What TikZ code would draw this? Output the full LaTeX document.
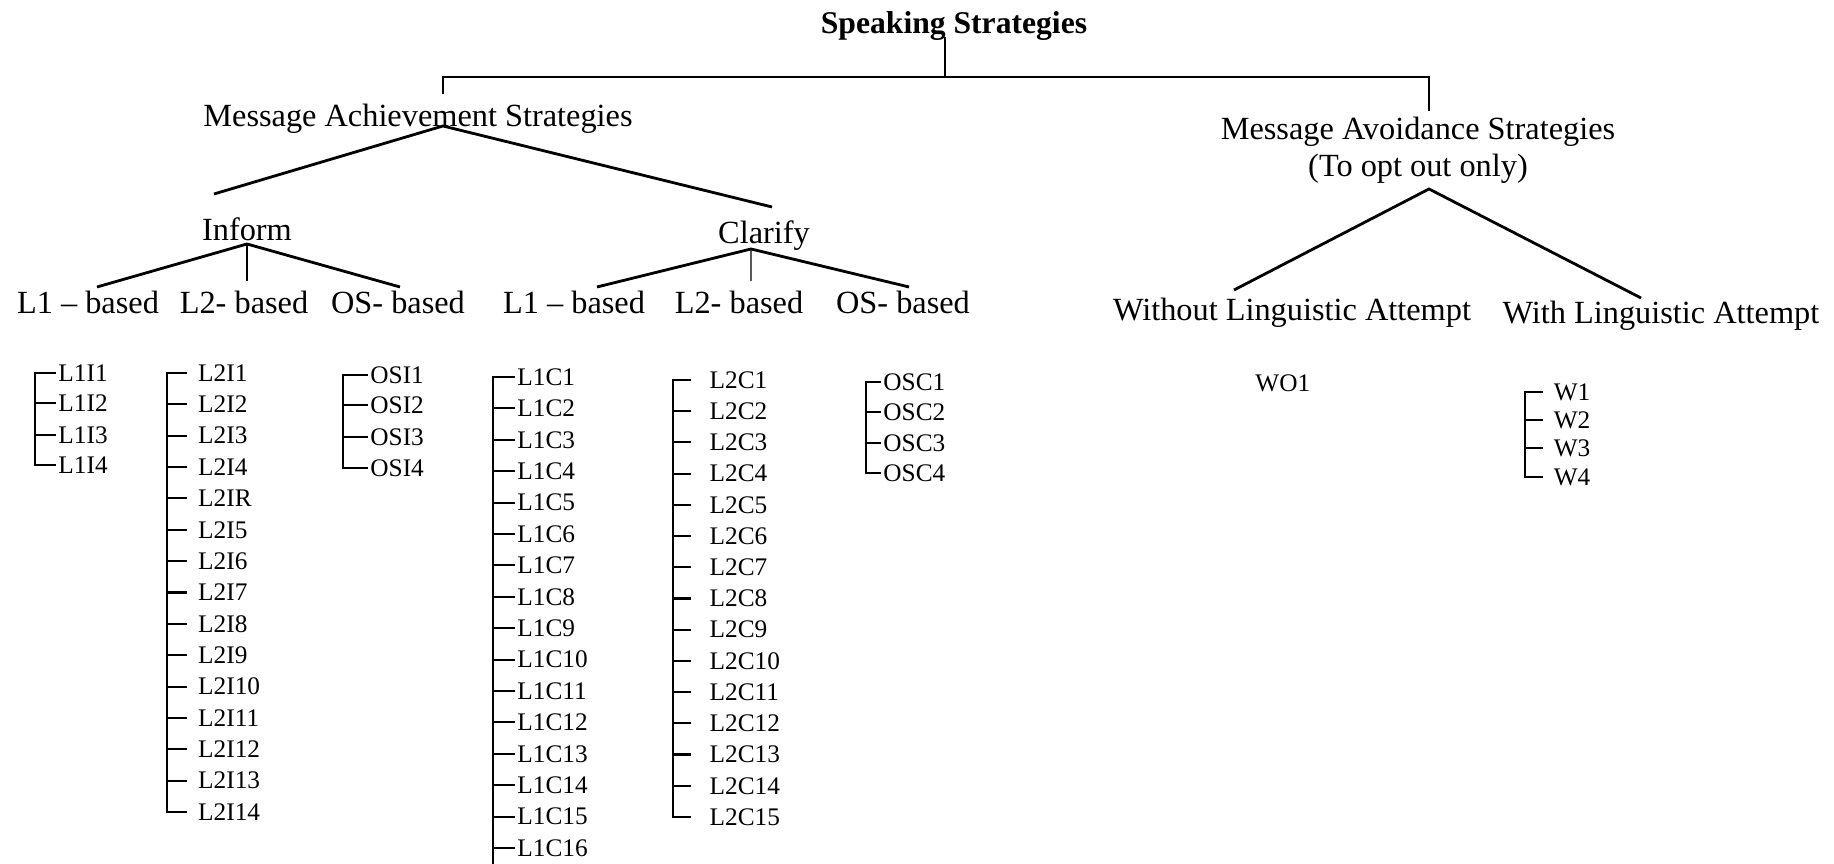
\documentclass[tikz,border=0pt]{standalone}
\usepackage{fontspec}
\setmainfont{Liberation Serif}
\usetikzlibrary{calc}
\tikzset{
  toplabel/.style={font=\fontsize{9.2}{10.5}\selectfont, inner sep=0pt, align=center},
  headlabel/.style={font=\fontsize{9}{10}\selectfont\bfseries, inner sep=0pt},
  leaf/.style={font=\fontsize{7.2}{8}\selectfont, anchor=west, inner xsep=0.5pt, inner ysep=0pt},
  leafgap/.style={leaf, inner xsep=3pt},
  leafwide/.style={leaf, inner xsep=5pt},
  branch/.style={line width=0.8pt, draw=black},
  bracket/.style={line width=0.6pt, draw=black},
  stem/.style={line width=0.4pt, draw=black},
}
\begin{document}
\begin{tikzpicture}
\useasboundingbox (0,0) rectangle (18.34,8.64);
\node[headlabel] (speak) at (9.540,8.380) {Speaking Strategies};
\node[toplabel] (ach) at (4.180,7.450) {Message Achievement Strategies};
\node[toplabel] (avo) at (14.180,7.140) {Message Avoidance Strategies\\(To opt out only)};
\node[toplabel] (inform) at (2.470,6.350) {Inform};
\node[toplabel] (clarify) at (7.640,6.280) {Clarify};
\node[toplabel] (l1ibase) at (0.880,5.620) {L1 -- based};
\node[toplabel] (l2ibase) at (2.440,5.620) {L2- based};
\node[toplabel] (osibase) at (3.980,5.620) {OS- based};
\node[toplabel] (l1cbase) at (5.740,5.620) {L1 -- based};
\node[toplabel] (l2cbase) at (7.390,5.620) {L2- based};
\node[toplabel] (oscbase) at (9.030,5.620) {OS- based};
\node[toplabel] (without) at (12.920,5.510) {Without Linguistic Attempt};
\node[toplabel] (with) at (16.610,5.480) {With Linguistic Attempt};
\coordinate (achfork) at ($(ach)+(0.25,-0.07)$);
\coordinate (informfork) at ($(inform)+(0,-0.15)$);
\coordinate (clarifyfork) at ($(clarify)+(-0.13,-0.13)$);
\coordinate (avofork) at ($(avo)+(0.11,-0.39)$);
\draw[stem] ($(speak)+(-0.09,-0.11)$) -- ++(0,-0.40);
\draw[branch] ($(ach)+(0.25,0.25)$) -- ++(0,0.17) -| ($(avo)+(0.11,0.39)$);
\draw[branch] ($(inform)+(-0.33,0.35)$) -- (achfork) -- ($(clarify)+(0.08,0.29)$);
\draw[branch] ($(l1ibase)+(0.09,0.15)$) -- (informfork) -- ($(osibase)+(0.02,0.15)$);
\draw[stem] (informfork) -- ($(l2ibase)+(0.03,0.21)$);
\draw[branch] ($(l1cbase)+(0.23,0.15)$) -- (clarifyfork) -- ($(oscbase)+(0.06,0.15)$);
\draw[stem] (clarifyfork) -- ($(l2cbase)+(0.12,0.21)$);
\draw[branch] ($(without)+(-0.58,0.23)$) -- (avofork) -- ($(with)+(-0.20,0.18)$);
\node[leaf] (l1i1) at (0.560,4.910) {L1I1};
\node[leaf] (l1i2) at (0.560,4.610) {L1I2};
\node[leaf] (l1i3) at (0.560,4.290) {L1I3};
\node[leaf] (l1i4) at (0.560,3.990) {L1I4};
\draw[bracket] (l1i1.west) -- ++(-0.21,0) |- (l1i4.west);
\draw[bracket] (l1i2.west) -- ++(-0.21,0);
\draw[bracket] (l1i3.west) -- ++(-0.21,0);
\node[leafgap] (l2i1) at (1.870,4.910) {L2I1};
\node[leafgap] (l2i2) at (1.870,4.596) {L2I2};
\node[leafgap] (l2i3) at (1.870,4.283) {L2I3};
\node[leafgap] (l2i4) at (1.870,3.969) {L2I4};
\node[leafgap] (l2ir) at (1.870,3.656) {L2IR};
\node[leafgap] (l2i5) at (1.870,3.342) {L2I5};
\node[leafgap] (l2i6) at (1.870,3.028) {L2I6};
\node[leafgap] (l2i7) at (1.870,2.715) {L2I7};
\node[leafgap] (l2i8) at (1.870,2.401) {L2I8};
\node[leafgap] (l2i9) at (1.870,2.088) {L2I9};
\node[leafgap] (l2i10) at (1.870,1.774) {L2I10};
\node[leafgap] (l2i11) at (1.870,1.460) {L2I11};
\node[leafgap] (l2i12) at (1.870,1.147) {L2I12};
\node[leafgap] (l2i13) at (1.870,0.833) {L2I13};
\node[leafgap] (l2i14) at (1.870,0.520) {L2I14};
\draw[bracket] (l2i1.west) -- ++(-0.20,0) |- (l2i14.west);
\draw[bracket] (l2i2.west) -- ++(-0.20,0);
\draw[bracket] (l2i3.west) -- ++(-0.20,0);
\draw[bracket] (l2i4.west) -- ++(-0.20,0);
\draw[bracket] (l2ir.west) -- ++(-0.20,0);
\draw[bracket] (l2i5.west) -- ++(-0.20,0);
\draw[bracket] (l2i6.west) -- ++(-0.20,0);
\draw[bracket] (l2i7.west) -- ++(-0.20,0);
\draw[bracket] (l2i8.west) -- ++(-0.20,0);
\draw[bracket] (l2i9.west) -- ++(-0.20,0);
\draw[bracket] (l2i10.west) -- ++(-0.20,0);
\draw[bracket] (l2i11.west) -- ++(-0.20,0);
\draw[bracket] (l2i12.west) -- ++(-0.20,0);
\draw[bracket] (l2i13.west) -- ++(-0.20,0);
\node[leaf] (osi1) at (3.680,4.890) {OSI1};
\node[leaf] (osi2) at (3.680,4.590) {OSI2};
\node[leaf] (osi3) at (3.680,4.270) {OSI3};
\node[leaf] (osi4) at (3.680,3.960) {OSI4};
\draw[bracket] (osi1.west) -- ++(-0.25,0) |- (osi4.west);
\draw[bracket] (osi2.west) -- ++(-0.25,0);
\draw[bracket] (osi3.west) -- ++(-0.25,0);
\node[leaf] (l1c1) at (5.150,4.870) {L1C1};
\node[leaf] (l1c2) at (5.150,4.556) {L1C2};
\node[leaf] (l1c3) at (5.150,4.242) {L1C3};
\node[leaf] (l1c4) at (5.150,3.928) {L1C4};
\node[leaf] (l1c5) at (5.150,3.614) {L1C5};
\node[leaf] (l1c6) at (5.150,3.300) {L1C6};
\node[leaf] (l1c7) at (5.150,2.986) {L1C7};
\node[leaf] (l1c8) at (5.150,2.672) {L1C8};
\node[leaf] (l1c9) at (5.150,2.358) {L1C9};
\node[leaf] (l1c10) at (5.150,2.044) {L1C10};
\node[leaf] (l1c11) at (5.150,1.730) {L1C11};
\node[leaf] (l1c12) at (5.150,1.416) {L1C12};
\node[leaf] (l1c13) at (5.150,1.102) {L1C13};
\node[leaf] (l1c14) at (5.150,0.788) {L1C14};
\node[leaf] (l1c15) at (5.150,0.474) {L1C15};
\node[leaf] (l1c16) at (5.150,0.160) {L1C16};
\draw[bracket] (l1c1.west) -- ++(-0.22,0) -- ++(0,-4.87);
\draw[bracket] (l1c2.west) -- ++(-0.22,0);
\draw[bracket] (l1c3.west) -- ++(-0.22,0);
\draw[bracket] (l1c4.west) -- ++(-0.22,0);
\draw[bracket] (l1c5.west) -- ++(-0.22,0);
\draw[bracket] (l1c6.west) -- ++(-0.22,0);
\draw[bracket] (l1c7.west) -- ++(-0.22,0);
\draw[bracket] (l1c8.west) -- ++(-0.22,0);
\draw[bracket] (l1c9.west) -- ++(-0.22,0);
\draw[bracket] (l1c10.west) -- ++(-0.22,0);
\draw[bracket] (l1c11.west) -- ++(-0.22,0);
\draw[bracket] (l1c12.west) -- ++(-0.22,0);
\draw[bracket] (l1c13.west) -- ++(-0.22,0);
\draw[bracket] (l1c14.west) -- ++(-0.22,0);
\draw[bracket] (l1c15.west) -- ++(-0.22,0);
\draw[bracket] (l1c16.west) -- ++(-0.22,0);
\node[leafwide] (l2c1) at (6.914,4.840) {L2C1};
\node[leafwide] (l2c2) at (6.914,4.528) {L2C2};
\node[leafwide] (l2c3) at (6.914,4.216) {L2C3};
\node[leafwide] (l2c4) at (6.914,3.904) {L2C4};
\node[leafwide] (l2c5) at (6.914,3.592) {L2C5};
\node[leafwide] (l2c6) at (6.914,3.279) {L2C6};
\node[leafwide] (l2c7) at (6.914,2.967) {L2C7};
\node[leafwide] (l2c8) at (6.914,2.655) {L2C8};
\node[leafwide] (l2c9) at (6.914,2.343) {L2C9};
\node[leafwide] (l2c10) at (6.914,2.031) {L2C10};
\node[leafwide] (l2c11) at (6.914,1.719) {L2C11};
\node[leafwide] (l2c12) at (6.914,1.407) {L2C12};
\node[leafwide] (l2c13) at (6.914,1.095) {L2C13};
\node[leafwide] (l2c14) at (6.914,0.782) {L2C14};
\node[leafwide] (l2c15) at (6.914,0.470) {L2C15};
\draw[bracket] (l2c1.west) -- ++(-0.184,0) |- (l2c15.west);
\draw[bracket] (l2c2.west) -- ++(-0.184,0);
\draw[bracket] (l2c3.west) -- ++(-0.184,0);
\draw[bracket] (l2c4.west) -- ++(-0.184,0);
\draw[bracket] (l2c5.west) -- ++(-0.184,0);
\draw[bracket] (l2c6.west) -- ++(-0.184,0);
\draw[bracket] (l2c7.west) -- ++(-0.184,0);
\draw[bracket] (l2c8.west) -- ++(-0.184,0);
\draw[bracket] (l2c9.west) -- ++(-0.184,0);
\draw[bracket] (l2c10.west) -- ++(-0.184,0);
\draw[bracket] (l2c11.west) -- ++(-0.184,0);
\draw[bracket] (l2c12.west) -- ++(-0.184,0);
\draw[bracket] (l2c13.west) -- ++(-0.184,0);
\draw[bracket] (l2c14.west) -- ++(-0.184,0);
\node[leaf] (osc1) at (8.810,4.820) {OSC1};
\node[leaf] (osc2) at (8.810,4.520) {OSC2};
\node[leaf] (osc3) at (8.810,4.210) {OSC3};
\node[leaf] (osc4) at (8.810,3.910) {OSC4};
\draw[bracket] (osc1.west) -- ++(-0.15,0) |- (osc4.west);
\draw[bracket] (osc2.west) -- ++(-0.15,0);
\draw[bracket] (osc3.west) -- ++(-0.15,0);
\node[leaf] (wo1) at (12.530,4.810) {WO1};
\node[leafgap] (w1) at (15.425,4.720) {W1};
\node[leafgap] (w2) at (15.425,4.440) {W2};
\node[leafgap] (w3) at (15.425,4.160) {W3};
\node[leafgap] (w4) at (15.425,3.870) {W4};
\draw[bracket] (w1.west) -- ++(-0.175,0) |- (w4.west);
\draw[bracket] (w2.west) -- ++(-0.175,0);
\draw[bracket] (w3.west) -- ++(-0.175,0);
\end{tikzpicture}
\end{document}
